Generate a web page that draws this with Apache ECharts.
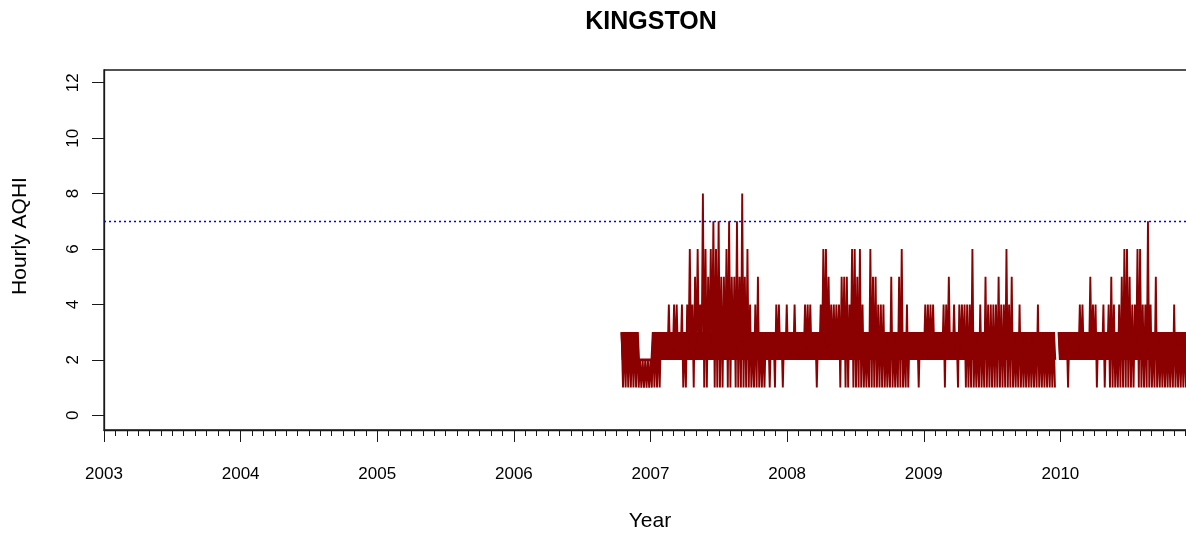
<!DOCTYPE html>
<html>
<head>
<meta charset="utf-8">
<script src="https://cdn.jsdelivr.net/npm/echarts@6/dist/echarts.min.js"></script>
<style>
html,body{margin:0;padding:0;background:#fff;overflow:hidden;width:1186px;height:535px;}
#chart{width:1197px;height:535px;}
</style>
</head>
<body>
<div id="chart"></div>
<script>
// Weekly bins of hourly AQHI (lowest and highest value read in each week)
const startDate = '2006-10-16';
const binDays = 7;
const weeklyLow = [
1,1,1,1,1,1,1,1,1,1, 1,1,1,1,1,2,2,2,2,2,
2,2,2,1,1,2,2,1,2,2, 2,1,1,2,2,1,1,1,1,2,
1,1,2,1,1,1,1,1,1,1, 1,1,1,1,1,2,1,2,1,2,
2,1,2,2,2,2,2,2,2,2, 2,2,2,2,1,2,2,2,2,2,
2,2,2,1,2,1,1,2,1,1, 1,1,1,1,1,1,1,1,1,1,
1,1,1,1,1,1,1,1,1,1, 2,2,2,1,2,2,2,2,2,2,
2,2,2,1,2,2,2,2,1,2, 2,1,1,1,1,1,1,1,1,1,
1,1,1,1,1,1,1,1,1,1, 1,1,1,1,1,1,1,1,1,1,
1,1,1,1,1,1,null,2,2,2, 1,2,2,2,2,2,2,2,2,2,
2,1,2,2,1,2,1,1,1,1, 1,1,1,1,1,1,2,1,1,1,
1,1,1,1,1,1,1,1,1,1, 1,1,1,1,1,1,1,1,1,1
];
const weeklyHigh = [
3,3,3,3,3,3,3,2,2,2, 2,2,3,3,3,3,3,3,4,3,
4,4,3,4,3,4,6,4,5,6, 4,8,6,5,6,7,6,7,5,5,
6,7,5,5,7,5,8,5,6,4, 3,4,5,3,3,3,3,3,3,4,
4,3,3,4,3,3,4,3,3,3, 4,4,4,3,3,3,4,6,6,5,
4,4,4,4,5,5,5,4,6,6, 5,6,4,3,3,6,5,5,4,4,
4,3,3,5,3,3,5,6,3,4, 3,3,3,3,3,3,4,4,4,4,
3,3,3,4,4,5,3,4,3,4, 4,4,4,4,6,3,3,4,3,5,
4,4,4,4,5,4,4,6,4,5, 3,3,4,3,3,3,3,3,3,4,
3,3,3,3,3,3,null,3,3,3, 3,3,3,3,3,4,4,3,3,5,
4,4,3,3,4,3,4,5,4,3, 4,5,6,6,5,4,4,6,6,4,
4,7,4,3,5,3,3,3,3,3, 3,4,3,3,3,3,3,3,3,3
];
// the band where most hours sit (drawn denser, as in the picture)
const coreBand = [2, 3];
const yTicks = [0, 2, 4, 6, 8, 10, 12];
const referenceLevel = 7;

function fracYear(ms) {
  const d = new Date(ms);
  const y = d.getUTCFullYear();
  const a = Date.UTC(y, 0, 1), b = Date.UTC(y + 1, 0, 1);
  return y + (ms - a) / (b - a);
}

const t0 = Date.parse(startDate + 'T00:00:00Z');
const dayMs = 86400000;
const points = [];
const corePoints = [];
for (let k = 0; k < weeklyLow.length; k++) {
  const ta = t0 + k * binDays * dayMs;
  const tb = ta + binDays * dayMs / 2;
  if (weeklyLow[k] == null) {
    points.push([fracYear(ta), null]);
    corePoints.push([fracYear(ta), null]);
    continue;
  }
  points.push([fracYear(ta), weeklyHigh[k]]);
  points.push([fracYear(tb), weeklyLow[k]]);
  corePoints.push([fracYear(ta), Math.min(weeklyHigh[k], coreBand[1])]);
  corePoints.push([fracYear(tb), Math.max(weeklyLow[k], coreBand[0])]);
}

const chart = echarts.init(document.getElementById('chart'), null, {renderer: 'canvas'});
const FONT = 'Liberation Sans, Arial, Helvetica, sans-serif';
const RED = '#8b0000';
chart.setOption({
  animation: false,
  backgroundColor: '#ffffff',
  title: {
    text: 'KINGSTON',
    left: 646, top: 5, textAlign: 'center',
    textStyle: {fontFamily: FONT, fontSize: 25, fontWeight: 'bold', color: '#000'}
  },
  grid: {
    left: 104, right: 0, top: 70, bottom: 105,
    show: true, borderColor: '#1a1a1a', borderWidth: 1.3, backgroundColor: 'transparent'
  },
  xAxis: {
    type: 'value', min: 2003, max: 2011, interval: 1,
    axisLine: {show: true, onZero: false, lineStyle: {color: '#1a1a1a', width: 1.3}},
    axisTick: {show: true, length: 12, lineStyle: {color: '#1a1a1a', width: 1}},
    minorTick: {show: true, splitNumber: 12, length: 6, lineStyle: {color: '#1a1a1a', width: 1}},
    splitLine: {show: false}, minorSplitLine: {show: false},
    axisLabel: {
      margin: 36, showMaxLabel: false, color: '#000',
      fontFamily: FONT, fontSize: 17,
      formatter: v => String(Math.round(v))
    }
  },
  yAxis: {
    type: 'value', min: -0.53, max: 12.46,
    axisLine: {show: true, onZero: false, lineStyle: {color: '#1a1a1a', width: 1.3}},
    axisTick: {show: true, length: 12, customValues: yTicks, lineStyle: {color: '#1a1a1a', width: 1}},
    splitLine: {show: false},
    axisLabel: {
      customValues: yTicks, rotate: 90, margin: 22, color: '#000',
      fontFamily: FONT, fontSize: 17,
      formatter: v => String(v)
    }
  },
  graphic: [
    {type: 'text', x: 650, y: 521, silent: true,
     style: {text: 'Year', fill: '#000', font: '21px ' + FONT, textAlign: 'center', textVerticalAlign: 'middle'}},
    {type: 'text', x: 20, y: 236, rotation: Math.PI / 2, silent: true,
     style: {text: 'Hourly AQHI', fill: '#000', font: '21px ' + FONT, textAlign: 'center', textVerticalAlign: 'middle'}}
  ],
  series: [{
    type: 'line',
    data: points,
    showSymbol: false,
    symbol: 'none',
    connectNulls: false,
    lineStyle: {color: RED, width: 1.9},
    itemStyle: {color: RED},
    markLine: {
      silent: true, symbol: 'none',
      label: {show: false},
      lineStyle: {color: '#0000ff', type: [2, 3], width: 1.4},
      data: [{yAxis: referenceLevel}]
    }
  }, {
    type: 'line',
    data: corePoints,
    showSymbol: false,
    symbol: 'none',
    connectNulls: false,
    lineStyle: {color: RED, width: 2.6},
    itemStyle: {color: RED},
    z: 1
  }]
});
</script>
</body>
</html>
